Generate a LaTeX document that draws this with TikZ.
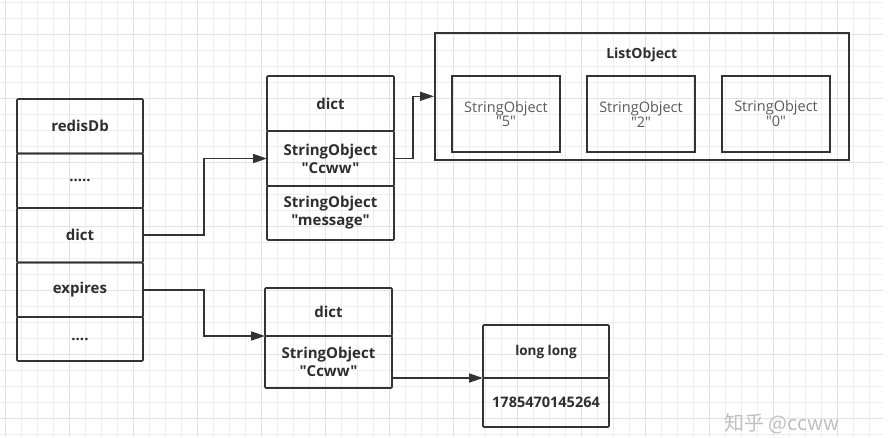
\documentclass[tikz,border=0pt]{standalone}
\usepackage{fontspec}
\setmainfont{Open Sans}[Ligatures=TeXOff]
\newfontfamily\cjkfont{Noto Sans CJK SC}
\usetikzlibrary{arrows.meta, positioning}
\definecolor{linegray}{HTML}{333333}
\definecolor{textgray}{HTML}{2E2E2E}
\definecolor{softgray}{HTML}{5A5A5A}
\definecolor{gridminor}{HTML}{EEEEEE}
\definecolor{gridmajor}{HTML}{E2E2E2}
\tikzstyle{cell} = [rectangle, draw=linegray, line width=1.6pt, rounded corners=1pt, minimum width=127pt, text centered, align=center, inner sep=0pt, outer sep=0pt, text=textgray, font=\fontsize{15}{18}\selectfont\bfseries]
\tikzstyle{member} = [rectangle, draw=linegray, line width=1.4pt, minimum width=108pt, minimum height=76pt, align=center, inner sep=0pt, outer sep=0pt, text=softgray, font=\fontsize{14.5}{13}\selectfont]
\tikzstyle{arrow} = [draw=linegray, line width=1.6pt, -{Triangle[length=14pt,width=9pt]}]
\tikzstyle{gridline} = [draw=gridminor, line width=0.8pt]

\begin{document}
\begin{tikzpicture}[x=1pt, y=-1pt]
	\fill[white] (0,0) rectangle (895,437);
	\useasboundingbox (0,0) rectangle (895,437);
	% background grid
	\foreach \x in {5,21,...,880} \draw[gridline] (\x,0) -- (\x,437);
	\foreach \y in {2,18,...,437} \draw[gridline] (0,\y) -- (883,\y);
	\foreach \x in {5,69,...,880} \draw[gridline, draw=gridmajor] (\x,0) -- (\x,437);
	\foreach \y in {34,98,...,437} \draw[gridline, draw=gridmajor] (0,\y) -- (883,\y);

	% redisDb
	\node (rTitle) [cell, minimum width=126pt, minimum height=54.5pt, anchor=north west] at (17,99) {redisDb};
	\node (rDots) [cell, minimum width=126pt, minimum height=54.5pt, below=0pt of rTitle] {.....};
	\node (rDict) [cell, minimum width=126pt, minimum height=54.5pt, below=0pt of rDots] {dict};
	\node (rExpires) [cell, minimum width=126pt, minimum height=54.5pt, below=0pt of rDict] {expires};
	\node (rMore) [cell, minimum width=126pt, minimum height=44pt, below=0pt of rExpires] {....};

	% dict of keys
	\node (tHead) [cell, minimum height=55pt, anchor=north west] at (267,76) {dict};
	\node (tKey) [cell, minimum height=55pt, below=0pt of tHead] {StringObject\\"Ccww"};
	\node (tMsg) [cell, minimum height=54pt, below=0pt of tKey] {StringObject\\"message"};

	% dict of expires
	\node (bHead) [cell, minimum height=48pt, anchor=north west] at (265,288) {dict};
	\node (bKey) [cell, minimum height=52pt, below=0pt of bHead] {StringObject\\"Ccww"};

	% long long
	\node (lType) [cell, minimum width=126pt, minimum height=53pt, anchor=north west, font=\fontsize{13.5}{16}\selectfont\bfseries] at (483,325) {long long};
	\node (lValue) [cell, minimum width=126pt, minimum height=49pt, below=0pt of lType, font=\fontsize{14.5}{16}\selectfont\bfseries] {1785470145264};

	% ListObject
	\node (list) [rectangle, draw=linegray, line width=1.6pt, minimum width=414pt, minimum height=127pt, anchor=north west] at (434,32) {};
	\node (listTitle) [below=16pt of list.north, inner sep=0pt, text=textgray, font=\fontsize{14}{16}\selectfont\bfseries] {ListObject};
	\node (s5) [member, anchor=north west] at (452,76) {StringObject\\"5"};
	\node (s2) [member, right=27pt of s5] {StringObject\\"2"};
	\node (s0) [member, right=27pt of s2] {StringObject\\"0"};

	\node (mark) [text=gray!50, font=\cjkfont\fontsize{20}{20}\selectfont] at (782,424) {知乎 @ccww};

	\draw [arrow] (rDict.east) -- ++(61,0) |- (tKey.west);
	\draw [arrow] (rExpires.east) -- ++(61,0) |- (bKey.north west);
	\draw [arrow] (tKey.east) -- ++(19,0) |- (list.west);
	\draw [arrow] (bKey.east) |- (lType.south west);
\end{tikzpicture}
\end{document}
